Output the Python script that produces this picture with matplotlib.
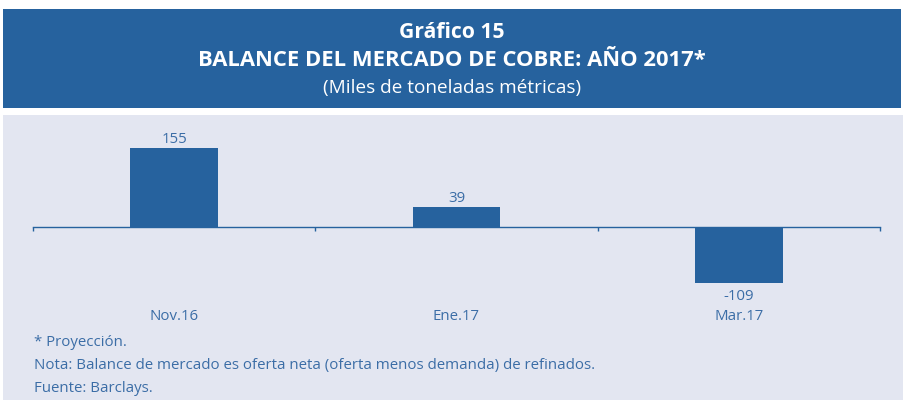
import numpy as np
import matplotlib
matplotlib.use("Agg")
import matplotlib.pyplot as plt
from matplotlib.patches import Rectangle
from matplotlib.transforms import blended_transform_factory

# data
categories = ["Nov.16", "Ene.17", "Mar.17"]
balance = [155, 39, -109]
value_labels = ["155", "39", "-109"]

title_1 = "Gráfico 15"
title_2 = "BALANCE DEL MERCADO DE COBRE: AÑO 2017*"
subtitle = "(Miles de toneladas métricas)"
notes = ["* Proyección.",
         "Nota: Balance de mercado es oferta neta (oferta menos demanda) de refinados.",
         "Fuente: Barclays."]

BLUE = "#26629e"
PANEL = "#e3e6f1"
TXT = "#3b6da6"

W, H = 904, 400
plt.rcParams["font.family"] = ["Open Sans", "DejaVu Sans"]

fig = plt.figure(figsize=(W / 100, H / 100), dpi=100)


def fx(px):
    return px / W


def fy(py):
    return 1 - py / H


# header band and grey panel (behind the axes)
fig.add_artist(Rectangle((fx(3), fy(108)), fx(901) - fx(3), fy(9) - fy(108),
                         transform=fig.transFigure, color=BLUE, lw=0, zorder=-10))
fig.add_artist(Rectangle((fx(3), 0), 1 - fx(3), fy(115),
                         transform=fig.transFigure, color=PANEL, lw=0, zorder=-10))

fig.text(0.5, fy(33), title_1, ha="center", va="center", color="white",
         fontsize=15.2, fontweight="bold")
fig.text(0.5, fy(61), title_2, ha="center", va="center", color="white",
         fontsize=15.8, fontweight="bold")
fig.text(0.5, fy(88), subtitle, ha="center", va="center", color="white",
         fontsize=13.7)

# plot axes: zero line at y=227 px, 155 -> 148 px
top_px, bot_px, zero_px = 130, 300, 227
scale = (zero_px - 148) / 155.0
ax = fig.add_axes([fx(33), fy(bot_px), fx(880) - fx(33), (bot_px - top_px) / H])
ax.set_facecolor("none")
x = np.arange(len(categories))
ax.bar(x, balance, width=0.31, color=BLUE, zorder=3)
ax.set_xlim(-0.5, len(categories) - 0.5)
ax.set_ylim(-(bot_px - zero_px) / scale, (zero_px - top_px) / scale)

for s in ("top", "right", "left"):
    ax.spines[s].set_visible(False)
ax.spines["bottom"].set_position(("data", 0))
ax.spines["bottom"].set_color(BLUE)
ax.spines["bottom"].set_linewidth(1.0)
ax.set_yticks([])
ax.set_xticks(np.arange(-0.5, len(categories), 1.0))
ax.tick_params(axis="x", direction="out", length=3, width=1.0, color=BLUE,
               labelbottom=False)

for xi, v, lab in zip(x, balance, value_labels):
    if v >= 0:
        ax.annotate(lab, (xi, v), xytext=(0, 1), textcoords="offset points",
                    ha="center", va="bottom", color=TXT, fontsize=10.8)
    else:
        ax.annotate(lab, (xi, v), xytext=(0, -5), textcoords="offset points",
                    ha="center", va="top", color=TXT, fontsize=10.8)

trans = blended_transform_factory(ax.transData, fig.transFigure)
for xi, c in zip(x, categories):
    ax.text(xi, fy(316), c, transform=trans, ha="center", va="center",
            color=TXT, fontsize=10.8)

for i, line in enumerate(notes):
    fig.text(fx(34), fy(343 + 22.5 * i), line, ha="left", va="center",
             color=TXT, fontsize=10.8)

fig.savefig("out.png", dpi=100)
